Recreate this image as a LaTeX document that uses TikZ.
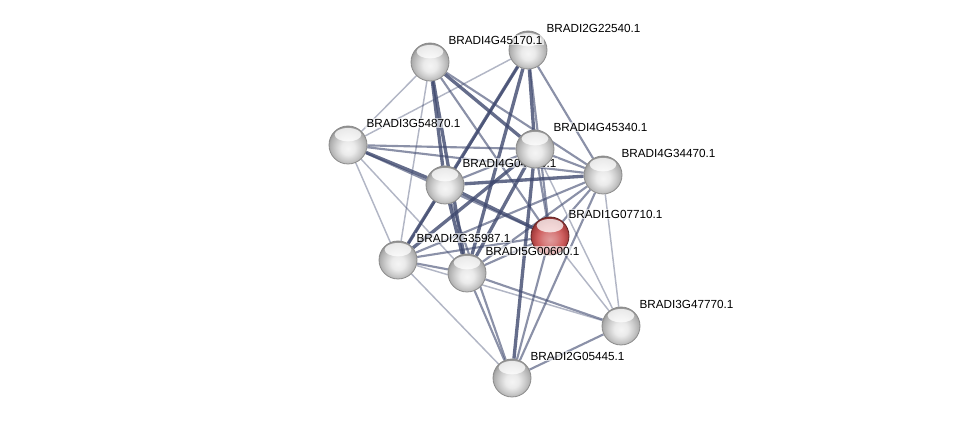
\documentclass[tikz,border=0pt]{standalone}
\usepackage{fontspec}
\setmainfont{Liberation Sans}
\usepackage{tikz}

\pgfdeclarelayer{edges}
\pgfsetlayers{edges,main}

\definecolor{edgeblue}{RGB}{62,72,110}
\definecolor{protred}{RGB}{200,75,75}

\pgfdeclareradialshading{greysphere}{\pgfpoint{0bp}{-5bp}}{color(0bp)=(black!4); color(9bp)=(black!8); color(17bp)=(black!20); color(24bp)=(black!32); color(29bp)=(black!50); color(50bp)=(black!50)}
\pgfdeclareradialshading{redsphere}{\pgfpoint{0bp}{-5bp}}{color(0bp)=(protred!55!white); color(9bp)=(protred!70!white); color(17bp)=(protred!90!white); color(24bp)=(protred!85!black); color(29bp)=(protred!55!black); color(50bp)=(protred!55!black)}

\tikzset{
  prot/.style={circle, minimum size=28.5pt, inner sep=0pt, draw=black!45, line width=0.6pt, shading=greysphere,
    path picture={\fill[white, opacity=0.75] ([yshift=-6.5pt]path picture bounding box.north) ellipse (10pt and 5pt);}},
  query/.style={prot, draw=protred!50!black, shading=redsphere},
  weak/.style={draw=edgeblue, line width=1.1pt, draw opacity=0.4},
  mid/.style={draw=edgeblue, line width=1.6pt, draw opacity=0.6},
  strong/.style={draw=edgeblue, line width=2.5pt, draw opacity=0.8},
  lbl/.style={anchor=west, inner sep=1pt, fill=white, fill opacity=0.6, text opacity=1, font=\fontsize{8.8}{10}\selectfont}
}

\begin{document}
\begin{tikzpicture}[x=0.75pt,y=0.75pt,yscale=-1,xscale=1]
\path[use as bounding box] (0,0) rectangle (976,423);

% Proteins with their names
\node[prot] (p2g22540) at (528,50) {};
\node[lbl] (l2g22540) at (545,28) {BRADI2G22540.1};
\node[prot] (p4g45170) at (430,62) {};
\node[lbl] (l4g45170) at (447,40) {BRADI4G45170.1};
\node[prot] (p3g54870) at (348,145) {};
\node[lbl] (l3g54870) at (365,123) {BRADI3G54870.1};
\node[prot] (p4g04750) at (445,185) {};
\node[lbl] (l4g04750) at (461,163) {BRADI4G04750.1};
\node[prot] (p4g45340) at (535,149) {};
\node[lbl] (l4g45340) at (552,127) {BRADI4G45340.1};
\node[prot] (p4g34470) at (603,175) {};
\node[lbl] (l4g34470) at (620,153) {BRADI4G34470.1};
\node[query] (p1g07710) at (550,236) {};
\node[lbl] (l1g07710) at (567,214) {BRADI1G07710.1};
\node[prot] (p2g35987) at (398,260) {};
\node[lbl] (l2g35987) at (415,238) {BRADI2G35987.1};
\node[prot] (p5g00600) at (467,273) {};
\node[lbl] (l5g00600) at (484,251) {BRADI5G00600.1};
\node[prot] (p3g47770) at (621,326) {};
\node[lbl] (l3g47770) at (638,304) {BRADI3G47770.1};
\node[prot] (p2g05445) at (512,378) {};
\node[lbl] (l2g05445) at (529,356) {BRADI2G05445.1};

\begin{pgfonlayer}{edges}
%Straight Lines
\draw[weak]   (p4g45170) -- (p3g54870);
\draw[weak]   (p4g45170) -- (p2g35987);
\draw[strong] (p4g45170) -- (p4g04750);
\draw[strong] (p4g45170) -- (p5g00600);
\draw[strong] (p4g45170) -- (p4g45340);
\draw[mid]    (p4g45170) -- (p4g34470);
\draw[mid]    (p4g45170) -- (p1g07710);
%Straight Lines
\draw[weak]   (p2g22540) -- (p3g54870);
\draw[strong] (p2g22540) -- (p2g35987);
\draw[strong] (p2g22540) -- (p5g00600);
\draw[mid]    (p2g22540) -- (p4g04750);
\draw[strong] (p2g22540) -- (p4g45340);
\draw[mid]    (p2g22540) -- (p4g34470);
\draw[mid]    (p2g22540) -- (p1g07710);
%Straight Lines
\draw[mid]    (p3g54870) -- (p4g45340);
\draw[mid]    (p3g54870) -- (p4g34470);
\draw[strong] (p3g54870) -- (p4g04750);
\draw[mid]    (p3g54870) -- (p1g07710);
\draw[weak]   (p3g54870) -- (p2g35987);
\draw[weak]   (p3g54870) -- (p5g00600);
%Straight Lines
\draw[mid]    (p4g45340) -- (p4g34470);
\draw[mid]    (p4g45340) -- (p4g04750);
\draw[mid]    (p4g45340) -- (p1g07710);
\draw[strong] (p4g45340) -- (p2g35987);
\draw[strong] (p4g45340) -- (p5g00600);
\draw[weak]   (p4g45340) -- (p3g47770);
\draw[strong] (p4g45340) -- (p2g05445);
%Straight Lines
\draw[strong] (p4g34470) -- (p4g04750);
\draw[mid]    (p4g34470) -- (p1g07710);
\draw[mid]    (p4g34470) -- (p2g35987);
\draw[mid]    (p4g34470) -- (p5g00600);
\draw[weak]   (p4g34470) -- (p3g47770);
\draw[mid]    (p4g34470) -- (p2g05445);
%Straight Lines
\draw[strong] (p4g04750) -- (p1g07710);
\draw[mid]    (p4g04750) -- (p2g35987);
\draw[strong] (p4g04750) -- (p5g00600);
\draw[mid]    (p4g04750) -- (p2g05445);
%Straight Lines
\draw[mid]    (p1g07710) -- (p2g35987);
\draw[mid]    (p1g07710) -- (p5g00600);
\draw[weak]   (p1g07710) -- (p3g47770);
\draw[mid]    (p1g07710) -- (p2g05445);
%Straight Lines
\draw[mid]    (p2g35987) -- (p5g00600);
\draw[weak]   (p2g35987) -- (p3g47770);
\draw[weak]   (p2g35987) -- (p2g05445);
\draw[mid]    (p5g00600) -- (p3g47770);
\draw[mid]    (p5g00600) -- (p2g05445);
\draw[mid]    (p3g47770) -- (p2g05445);
\end{pgfonlayer}

\end{tikzpicture}
\end{document}
